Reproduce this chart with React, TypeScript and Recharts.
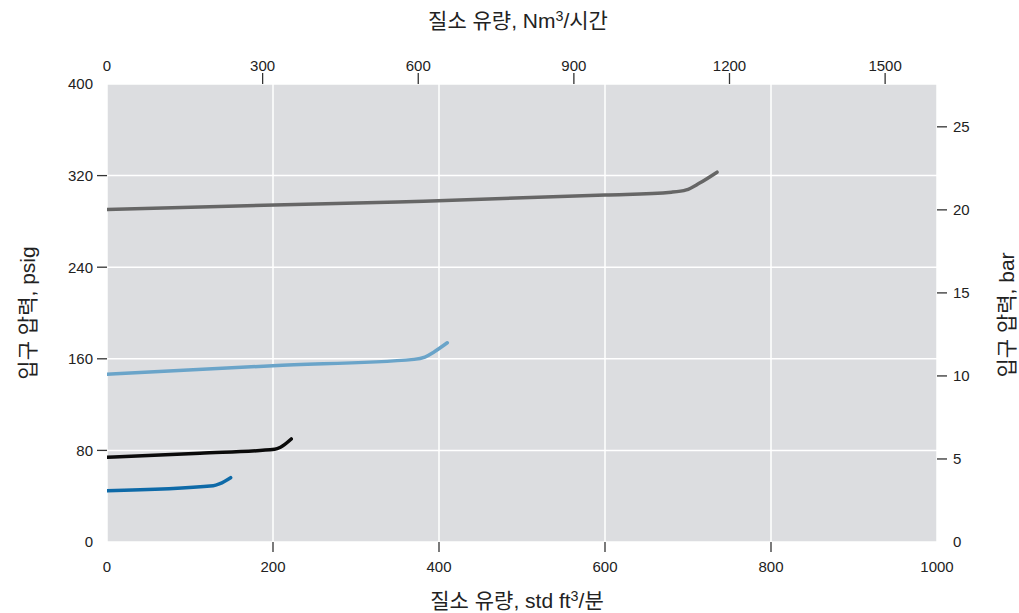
import { CartesianGrid, Line, LineChart, XAxis, YAxis } from "recharts";

// tick values
const flowTicks = [0, 200, 400, 600, 800, 1000];
const nm3Ticks = [0, 300, 600, 900, 1200, 1500];
const psigTicks = [0, 80, 160, 240, 320, 400];
const barTicks = [0, 5, 10, 15, 20, 25];

// std ft3/min -> Nm3/h (approx) used for the top axis
const NM3_PER_SCFM = 1.6;

// curves: flow in std ft3/min, inlet pressure in psig
const grayCurve = [
    { flow: 0, psig: 290.5 },
    { flow: 350, psig: 297 },
    { flow: 600, psig: 303 },
    { flow: 680, psig: 305.5 },
    { flow: 698, psig: 307.5 },
    { flow: 714, psig: 313.5 },
    { flow: 735, psig: 323 },
];
const lightBlueCurve = [
    { flow: 0, psig: 146.5 },
    { flow: 200, psig: 154 },
    { flow: 370, psig: 159.5 },
    { flow: 383, psig: 161.5 },
    { flow: 394, psig: 166 },
    { flow: 410, psig: 174 },
];
const blackCurve = [
    { flow: 0, psig: 74 },
    { flow: 112, psig: 77.5 },
    { flow: 202, psig: 81 },
    { flow: 209, psig: 82.8 },
    { flow: 222, psig: 90 },
];
const blueCurve = [
    { flow: 0, psig: 44.8 },
    { flow: 128, psig: 49.2 },
    { flow: 136, psig: 51 },
    { flow: 149, psig: 56.2 },
];

// same gray curve in Nm3/h, only so the top axis has data (drawn invisible)
const grayCurveNm3 = grayCurve.map((d) => ({ nm3: d.flow * NM3_PER_SCFM, psig: d.psig }));

const FONT = "'Liberation Sans', Arial, 'Noto Sans CJK KR', sans-serif";
const TEXT = "#222";

type Side = "left" | "right" | "top" | "bottom";

function makeTick(side: Side, size: number, margin: number, noLine: number[]) {
    return (props: any) => {
        const { x, y, payload } = props;
        const v = payload.value;
        const line = !noLine.includes(v);
        let l = null;
        let t = null;
        if (side === "bottom") {
            const y0 = y - size - margin;
            l = <line x1={x} y1={y0} x2={x} y2={y0 + size} />;
            t = <text x={x} y={y} dy="0.71em" textAnchor="middle">{v}</text>;
        } else if (side === "top") {
            const y0 = y + size + margin;
            l = <line x1={x} y1={y0 - size} x2={x} y2={y0} />;
            t = <text x={x} y={y} textAnchor="middle">{v}</text>;
        } else if (side === "left") {
            const x0 = x + size + margin;
            l = <line x1={x0 - size} y1={y} x2={x0} y2={y} />;
            t = <text x={x} y={y} dy="0.36em" textAnchor="end">{v}</text>;
        } else {
            const x0 = x - size - margin;
            l = <line x1={x0} y1={y} x2={x0 + size} y2={y} />;
            t = <text x={x} y={y} dy="0.36em" textAnchor="start">{v}</text>;
        }
        return (
            <g fontFamily={FONT} fontSize={15} fill={TEXT} stroke="none">
                {line && <g stroke="#333" strokeWidth={1.3}>{l}</g>}
                {t}
            </g>
        );
    };
}

const titleStyle: React.CSSProperties = {
    position: "absolute",
    fontFamily: FONT,
    fontSize: 21,
    color: TEXT,
    lineHeight: 1,
    whiteSpace: "nowrap",
};
const supStyle: React.CSSProperties = { fontSize: "0.68em", verticalAlign: "0.45em", lineHeight: 0 };

export default function App() {
    return (
        <div style={{ position: "absolute", left: 0, top: 0, width: 1019, height: 613, background: "#fff", overflow: "hidden" }}>
            <LineChart width={1019} height={613} margin={{ top: 44, right: 22, bottom: 31, left: 47 }}>
                <CartesianGrid
                    xAxisId="flow"
                    yAxisId="psig"
                    fill="#dcdde0"
                    fillOpacity={1}
                    stroke="#ffffff"
                    strokeWidth={1.5}
                />
                <XAxis
                    xAxisId="flow"
                    dataKey="flow"
                    type="number"
                    orientation="bottom"
                    domain={[0, 1000]}
                    ticks={flowTicks}
                    allowDataOverflow
                    height={40}
                    axisLine={false}
                    tickLine={false}
                    tickSize={10}
                    tickMargin={9}
                    interval={0}
                    tick={makeTick("bottom", 10, 9, [0, 1000])}
                />
                <XAxis
                    xAxisId="nm3"
                    dataKey="nm3"
                    type="number"
                    orientation="top"
                    domain={[0, 1000 * NM3_PER_SCFM]}
                    ticks={nm3Ticks}
                    allowDataOverflow
                    height={40}
                    axisLine={false}
                    tickLine={false}
                    tickSize={11}
                    tickMargin={2}
                    interval={0}
                    tick={makeTick("top", 11, 2, [0])}
                />
                <YAxis
                    yAxisId="psig"
                    type="number"
                    orientation="left"
                    domain={[0, 400]}
                    ticks={psigTicks}
                    allowDataOverflow
                    width={60}
                    axisLine={false}
                    tickLine={false}
                    tickSize={10}
                    tickMargin={4}
                    interval={0}
                    tick={makeTick("left", 10, 4, [0, 400])}
                />
                <YAxis
                    yAxisId="bar"
                    type="number"
                    orientation="right"
                    domain={[0, 400 / 14.5038]}
                    ticks={barTicks}
                    allowDataOverflow
                    width={60}
                    axisLine={false}
                    tickLine={false}
                    tickSize={10}
                    tickMargin={6}
                    interval={0}
                    tick={makeTick("right", 10, 6, [0])}
                />
                <Line xAxisId="nm3" yAxisId="psig" data={grayCurveNm3} dataKey="psig" type="monotone" stroke="none" dot={false} activeDot={false} isAnimationActive={false} />
                <Line xAxisId="flow" yAxisId="psig" data={grayCurve} dataKey="psig" type="monotone" stroke="#666666" strokeWidth={3.5} strokeLinecap="round" dot={false} activeDot={false} isAnimationActive={false} />
                <Line xAxisId="flow" yAxisId="psig" data={lightBlueCurve} dataKey="psig" type="monotone" stroke="#6aa4c9" strokeWidth={3.5} strokeLinecap="round" dot={false} activeDot={false} isAnimationActive={false} />
                <Line xAxisId="flow" yAxisId="psig" data={blackCurve} dataKey="psig" type="monotone" stroke="#0a0a0a" strokeWidth={3.5} strokeLinecap="round" dot={false} activeDot={false} isAnimationActive={false} />
                <Line xAxisId="flow" yAxisId="psig" data={blueCurve} dataKey="psig" type="monotone" stroke="#0e6aa8" strokeWidth={3.5} strokeLinecap="round" dot={false} activeDot={false} isAnimationActive={false} />
            </LineChart>

            <div style={{ ...titleStyle, left: 518, top: 20, transform: "translate(-50%, -50%)" }}>
                질소 유량, Nm<span style={supStyle}>3</span>/시간
            </div>
            <div style={{ ...titleStyle, left: 517, top: 600, transform: "translate(-50%, -50%)" }}>
                질소 유량, std ft<span style={supStyle}>3</span>/분
            </div>
            <div style={{ ...titleStyle, left: 27, top: 313, transform: "translate(-50%, -50%) rotate(-90deg)" }}>
                입구 압력, psig
            </div>
            <div style={{ ...titleStyle, left: 1006, top: 315, transform: "translate(-50%, -50%) rotate(-90deg)" }}>
                입구 압력, bar
            </div>
        </div>
    );
}
